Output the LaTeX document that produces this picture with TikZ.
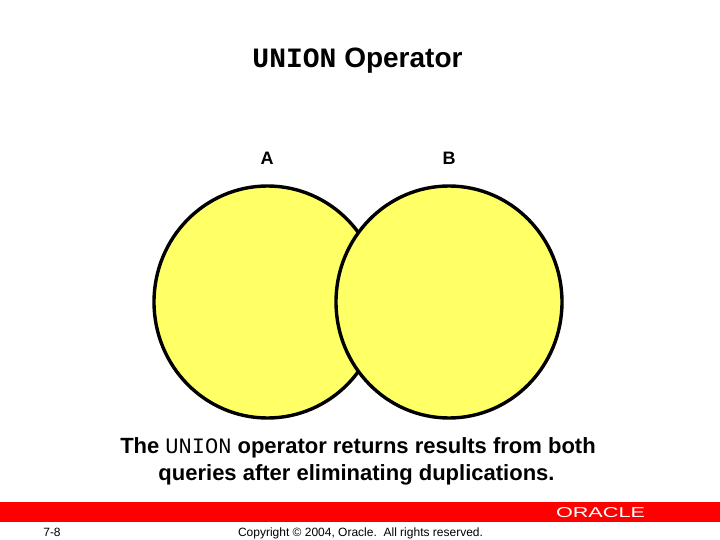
\documentclass[tikz,border=0pt]{standalone}
\usepackage{fontspec}
\setmainfont{Liberation Sans}
\setmonofont{Liberation Mono}
\usepackage{graphicx}
\tikzset{
  x=1pt,y=-1pt,
  venn/.style={draw=black,line width=3.4pt,fill=vennyellow},
  label/.style={inner sep=0pt,anchor=base,text=black},
}
\definecolor{vennyellow}{RGB}{255,255,102}
\definecolor{bandred}{RGB}{255,0,0}
\begin{document}
\begin{tikzpicture}
\useasboundingbox (0,0) rectangle (720,540);
\fill[white] (0,0) rectangle (720,540);
\fill[bandred] (0,502) rectangle (720,522);
\node[label,font=\fontsize{28}{32}\selectfont\bfseries] (title) at (357.5,68) {{\ttfamily UNION} Operator};
\node[label,font=\fontsize{18}{22}\selectfont\bfseries] (la) at (267,165) {A};
\node[label,font=\fontsize{18}{22}\selectfont\bfseries] (lb) at (449,165) {B};
\path[venn] (267.5,302) ellipse [x radius=113.5,y radius=116];
\path[venn] (449,302) ellipse [x radius=113,y radius=116];
\node[label,font=\fontsize{22}{27}\selectfont] (cap1) at (358,453) {\textbf{The} {\ttfamily UNION} \textbf{operator returns results from both}};
\node[label,font=\fontsize{22}{27}\selectfont\bfseries] (cap2) at (356.5,480) {queries after eliminating duplications.};
\node[label,font=\fontsize{12}{14}\selectfont] (pg) at (52,536) {7-8};
\node[label,font=\fontsize{12}{14}\selectfont] (copy) at (360.5,536) {Copyright © 2004, Oracle.\ \ All rights reserved.};
\node[label,text=white] (logo) at (600.5,517) {\resizebox{89pt}{10pt}{ORACLE}};
\end{tikzpicture}
\end{document}
